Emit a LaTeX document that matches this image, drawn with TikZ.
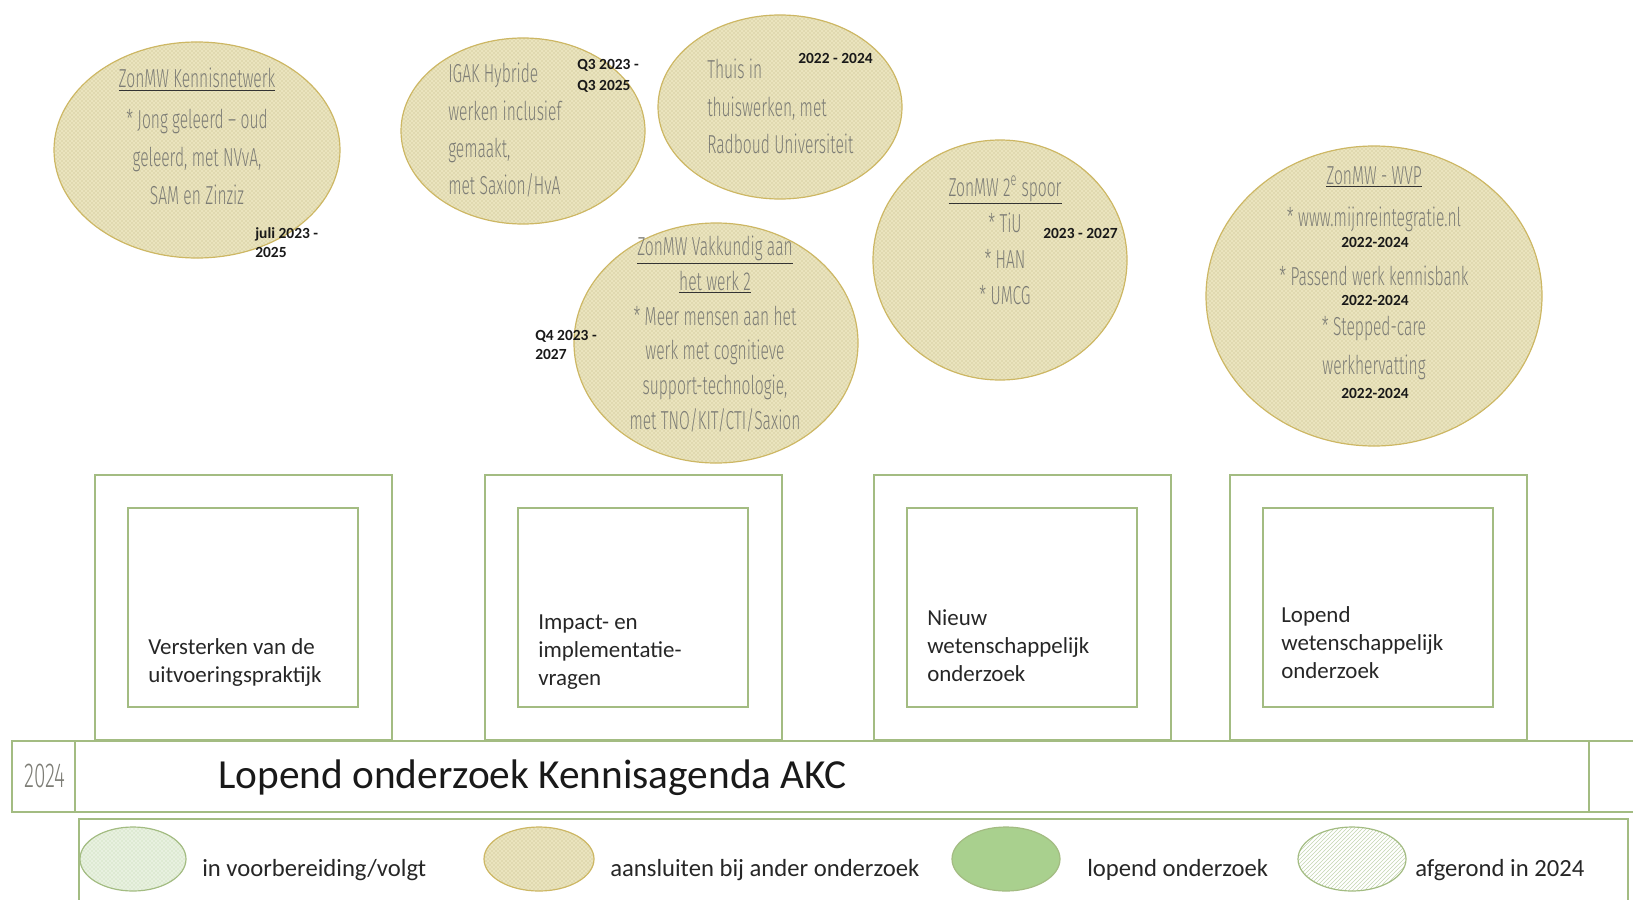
\documentclass[tikz,border=0pt]{standalone}
\usepackage{fontspec}
\setmainfont{Carlito}
\newfontfamily\handfont[FakeStretch=0.6]{Fira Sans Light}
\usetikzlibrary{patterns}
\definecolor{boxgreen}{RGB}{163,188,130}
\definecolor{khakifill}{RGB}{234,228,190}
\definecolor{khakidot}{RGB}{194,183,132}
\definecolor{khakiline}{RGB}{205,183,100}
\definecolor{inkgrey}{RGB}{125,125,118}
\definecolor{palegreen}{RGB}{232,241,224}
\definecolor{dotgreen}{RGB}{190,212,170}
\definecolor{solidgreen}{RGB}{169,208,142}
\definecolor{hatchgreen}{RGB}{196,214,178}
\newcommand{\ulbar}[1]{{\color{black!80}\underline{\textcolor{inkgrey}{#1}}}}

\begin{document}
\begin{tikzpicture}[x=0.75pt,y=0.75pt,yscale=-1,xscale=1,
  frame/.style={draw=boxgreen, line width=1pt},
  khaki/.style={draw=khakiline, line width=0.9pt, preaction={fill=khakifill}, pattern=crosshatch dots, pattern color=khakidot},
  elltext/.style={inner sep=0pt, text=inkgrey, font=\handfont\fontsize{19.5}{28}\selectfont},
  datetext/.style={inner sep=0pt, text=black!90, align=left, font=\bfseries\fontsize{11.6}{14.5}\selectfont},
  lbltext/.style={anchor=north west, inner sep=0pt, text=black!85, align=left, font=\fontsize{17.2}{21}\selectfont},
  legtext/.style={anchor=base west, inner sep=0pt, text=black!85, font=\fontsize{18.5}{22}\selectfont}]
\useasboundingbox (0,0) rectangle (1633,899);

%Shape: Outer frames
\foreach \bx in {95,485,874,1230}
  \draw[frame] (\bx,475) rectangle ++(297,265);
%Shape: Inner frames
\foreach \bx in {128,518,907,1263}
  \draw[frame] (\bx,508) rectangle ++(230,199);

%Shape: Banner
\draw[frame] (1640,741) -- (12,741) -- (12,812) -- (1640,812);
\draw[frame] (75,741) -- (75,812);
\draw[frame] (1589,741) -- (1589,812);
%Shape: Legend frame
\draw[frame] (79,905) -- (79,819) -- (1628,819) -- (1628,905);

%Shape: Ellipses
\draw[khaki] (197,150) ellipse (143 and 108);
\draw[khaki] (523,131) ellipse (122 and 93);
\draw[khaki] (780,107) ellipse (122 and 92);
\draw[khaki] (716,343) ellipse (142 and 120);
\draw[khaki] (1000,260) ellipse (127 and 120);
\draw[khaki] (1374,296) ellipse (168 and 150);

% Text Node
\node[elltext, anchor=north, align=center, font=\handfont\fontsize{19.5}{28.5}\selectfont] (kennisnetwerk) at (197,68)
  {\ulbar{ZonMW Kennisnetwerk}\\[2pt]* Jong geleerd – oud\\geleerd, met NVvA,\\SAM en Zinziz};
\node[elltext, anchor=north west, align=left] (igak) at (448,63)
  {IGAK Hybride\\werken inclusief\\gemaakt,\\met Saxion/HvA};
\node[elltext, anchor=north west, align=left] (thuis) at (707,59)
  {Thuis in\\thuiswerken, met\\Radboud Universiteit};
\node[elltext, anchor=north, align=center, font=\handfont\fontsize{19.5}{26}\selectfont] (vakkundig) at (715,236)
  {\ulbar{ZonMW Vakkundig aan}\\\ulbar{het werk 2}\\* Meer mensen aan het\\werk met cognitieve\\support-technologie,\\met TNO/KIT/CTI/Saxion};
\node[elltext, anchor=north, align=center, font=\handfont\fontsize{19.5}{27}\selectfont] (spoor) at (1005,176)
  {\ulbar{ZonMW 2\textsuperscript{e} spoor}\\* TiU\\* HAN\\* UMCG};
\node[elltext, anchor=north, align=center] (wvp) at (1374,166)
  {\ulbar{ZonMW - WVP}\\[4pt]* www.mijnreintegratie.nl};
\node[elltext, anchor=center] (passend) at (1374,276) {* Passend werk kennisbank};
\node[elltext, anchor=center, align=center, font=\handfont\fontsize{19.5}{29}\selectfont] (stepped) at (1374,348)
  {* Stepped-care\\werkhervatting};

% Date Nodes
\node[datetext, anchor=north west] (datekennis) at (255,227) {juli 2023 -\\2025};
\node[datetext, anchor=north west, font=\bfseries\fontsize{11.6}{15.5}\selectfont] (dateigak) at (577,59) {Q3 2023 -\\Q3 2025};
\node[datetext, anchor=west] (datethuis) at (798,58) {2022 - 2024};
\node[datetext, anchor=north west] (datevak) at (535,330) {Q4 2023 -\\2027};
\node[datetext, anchor=west] (datespoor) at (1043,233) {2023 - 2027};
\node[datetext, anchor=center] (datewvpa) at (1375,242) {2022-2024};
\node[datetext, anchor=center] (datewvpb) at (1375,300) {2022-2024};
\node[datetext, anchor=center] (datewvpc) at (1375,393) {2022-2024};

% Frame labels
\node[lbltext] (versterken) at (148,638) {Versterken van de\\uitvoeringspraktijk};
\node[lbltext] (impact) at (538,615) {Impact- en\\implementatie-\\vragen};
\node[lbltext] (nieuw) at (927,609) {Nieuw\\wetenschappelijk\\onderzoek};
\node[lbltext] (lopend) at (1281,606) {Lopend\\wetenschappelijk\\onderzoek};

% Banner text
\node[anchor=base west, inner sep=0pt, text=inkgrey, font=\handfont\fontsize{26}{30}\selectfont] (jaar) at (24,787) {2024};
\node[anchor=base west, inner sep=0pt, text=black!90, font=\fontsize{31}{36}\selectfont] (titel) at (218,788) {Lopend onderzoek Kennisagenda AKC};

% Legend
\draw[draw=boxgreen, line width=0.9pt, preaction={fill=palegreen}, pattern=crosshatch dots, pattern color=dotgreen] (133,859) ellipse (53 and 32);
\node[legtext] (voorbereiding) at (202,876) {in voorbereiding/volgt};
\draw[khaki] (539,859) ellipse (55 and 32);
\node[legtext] (aansluiten) at (610,876) {aansluiten bij ander onderzoek};
\draw[draw=boxgreen, line width=0.9pt, fill=solidgreen] (1006,859) ellipse (54 and 32);
\node[legtext] (lopendlegend) at (1087,876) {lopend onderzoek};
\draw[draw=boxgreen, line width=0.9pt, preaction={fill=white}, pattern=north east lines, pattern color=hatchgreen] (1352,859) ellipse (54 and 32);
\node[legtext] (afgerond) at (1415,876) {afgerond in 2024};

\end{tikzpicture}
\end{document}
